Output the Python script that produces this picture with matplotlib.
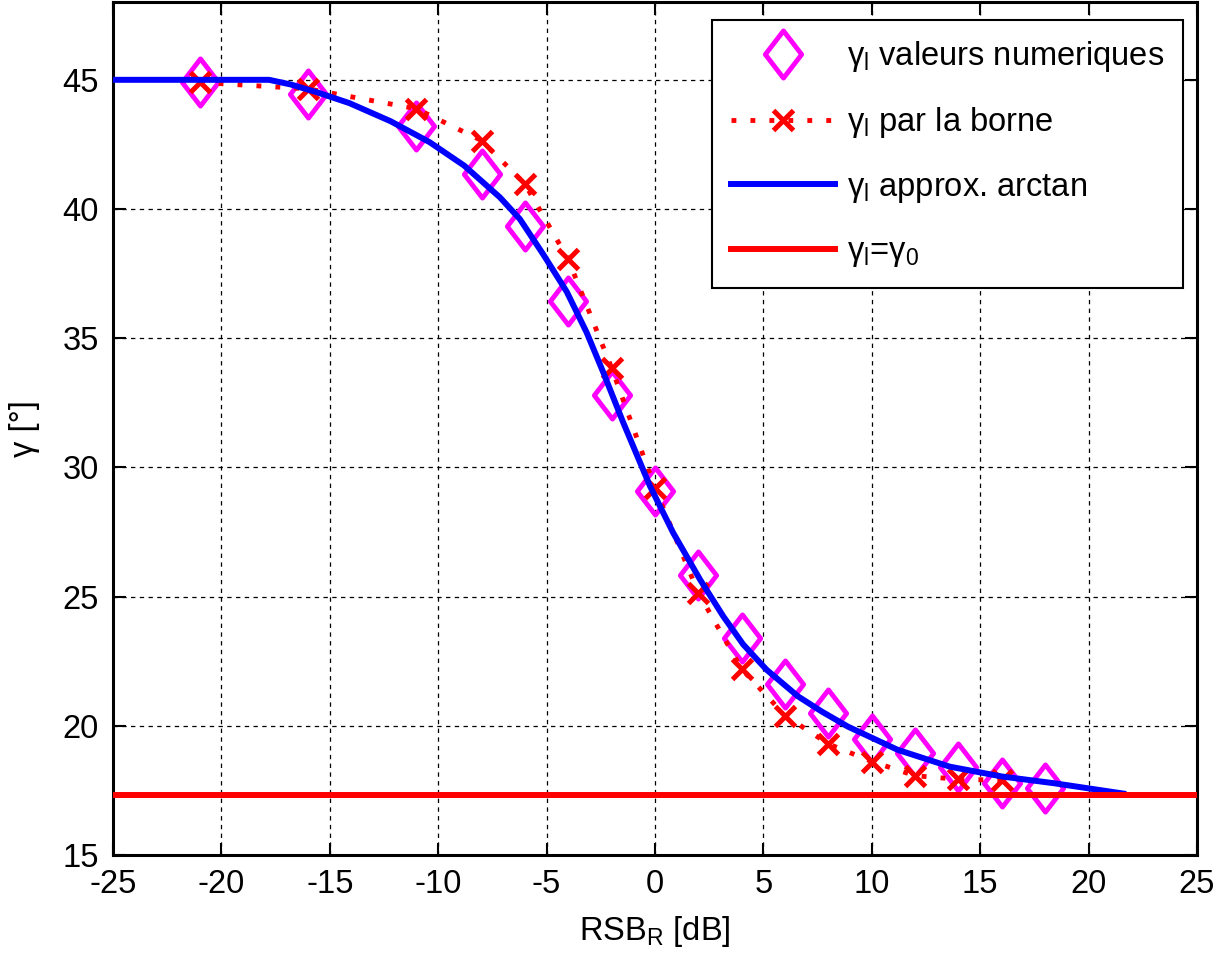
import numpy as np
import matplotlib
matplotlib.use("Agg")
import matplotlib.pyplot as plt
from matplotlib.path import Path

plt.rcParams["font.family"] = ["Liberation Sans", "DejaVu Sans"]
plt.rcParams["mathtext.default"] = "regular"
plt.rcParams["mathtext.fontset"] = "custom"
plt.rcParams["mathtext.rm"] = "Liberation Sans"
plt.rcParams["mathtext.it"] = "Liberation Sans:italic"

# --- valeurs ---
x_num = [-21, -16, -11, -8, -6, -4, -2, 0, 2, 4, 6, 8, 10, 12, 14, 16, 18]
gam_num = [44.9, 44.45, 43.2, 41.35, 39.35, 36.45, 32.8, 29.1, 25.85, 23.4,
           21.6, 20.5, 19.5, 18.95, 18.4, 17.8, 17.6]

x_borne = [-21, -16, -11, -8, -6, -4, -2, 0, 2, 4, 6, 8, 10, 12, 14, 16]
gam_borne = [44.9, 44.65, 43.88, 42.65, 40.97, 38.05, 33.85, 29.2, 25.15, 22.2,
             20.4, 19.3, 18.62, 18.07, 17.93, 17.9]

x_arc = [-25, -17.8, -16.8, -15.6, -14.1, -12.2, -10.4, -8.8, -7.15, -6.23,
         -5.15, -4.07, -3.15, -2.38, -1.46, -0.23, 0.84, 2.08, 3.15, 4.07,
         5.15, 6.6, 7.7, 8.9, 11.2, 13.6, 16.0, 18.4, 20.0, 21.6]
gam_arc = [45, 45, 44.82, 44.52, 44.1, 43.4, 42.59, 41.68, 40.45, 39.61,
           38.24, 36.8, 35.22, 33.67, 31.73, 29.28, 27.47, 25.66, 24.24, 23.15,
           22.17, 21.14, 20.55, 19.97, 19.07, 18.42, 18.04, 17.78, 17.58, 17.38]

gamma0 = 17.33
x_ticks = [-25, -20, -15, -10, -5, 0, 5, 10, 15, 20, 25]
y_ticks = [15, 20, 25, 30, 35, 40, 45]

# losange plus haut que large (style MATLAB)
diamond = Path([(0, 1.3), (1, 0), (0, -1.3), (-1, 0), (0, 1.3)],
               [Path.MOVETO, Path.LINETO, Path.LINETO, Path.LINETO, Path.CLOSEPOLY])

fig = plt.figure(figsize=(12.24, 9.59), dpi=100, facecolor="white")
ax = fig.add_axes([0.0923, 0.1084, 0.8856, 0.8892])

ax.plot(x_num, gam_num, ls="none", marker=diamond, ms=34, mfc="none",
        mec="#FF00FF", mew=3.5, label="γ$_{l}$ valeurs numeriques", zorder=3)
ax.plot(x_borne, gam_borne, color="red", lw=3.5, ls=(0, (1, 2.9)),
        marker="x", ms=15, mew=3.6, label="γ$_{l}$ par la borne", zorder=4)
ax.plot(x_arc, gam_arc, color="blue", lw=4.3, label="γ$_{l}$ approx. arctan",
        zorder=5)
ax.axhline(gamma0, color="red", lw=4.3, label="γ$_{l}$=γ$_{0}$", zorder=6)

ax.set_xlim(-25, 25)
ax.set_ylim(15, 48)
ax.set_xticks(x_ticks)
ax.set_yticks(y_ticks)
ax.set_xticklabels([str(v) for v in x_ticks])
ax.tick_params(direction="in", length=9, width=1.5, labelsize=23.5,
               top=True, right=True, pad=10)
for s in ax.spines.values():
    s.set_linewidth(2.2)
ax.grid(True, color="black", lw=0.9, ls=(0, (3.5, 3.5)))

ax.set_xlabel("RSB$_{R}$ [dB]", fontsize=23.5, labelpad=10)
ax.set_ylabel("γ [°]", fontsize=23.5, labelpad=16)

leg = ax.legend(loc="upper right", bbox_to_anchor=(0.987, 0.979), borderaxespad=0,
                fontsize=23.5, fancybox=False, framealpha=1, edgecolor="black",
                handlelength=3.2, handletextpad=0.35, labelspacing=0.96,
                borderpad=0.58)
leg.get_frame().set_linewidth(1.5)

plt.savefig("out.png", dpi=100, facecolor="white")
